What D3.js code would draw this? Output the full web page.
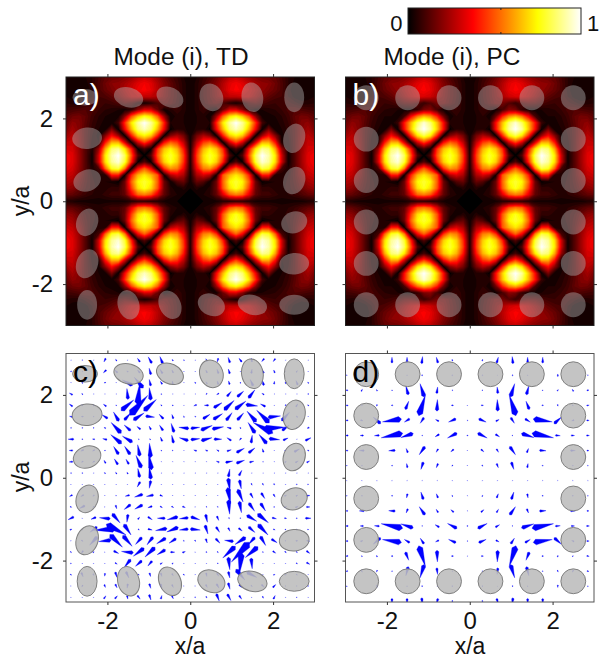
<!DOCTYPE html>
<html lang="en">
<head>
  <meta charset="UTF-8">
  <title>Mode (i), TD and PC</title>
  <script src="https://d3js.org/d3.v7.min.js"></script>
  <style>
    html, body { margin: 0; padding: 0; background: #fff; }
    svg { display: block; font-family: "Liberation Sans", Arial, sans-serif; }
    .tick text { font-size: 24px; fill: #111; }
    .tick line { stroke: #333; }
    .title { font-size: 24.4px; fill: #111; text-anchor: middle; }
    .axlabel { font-size: 23px; fill: #111; text-anchor: middle; }
    .letter { font-size: 30px; }
  </style>
</head>
<body>
<svg width="599" height="660"></svg>
<script>
  // intensity, upper-left quadrant, percent of max (rows y=3..0, cols x=-3..0)
  const heatPC = [
    [2,3,3,4,6,10,14,16,17,19,22,26,29,27,22,16,11,8,4,2],
    [3,3,3,3,6,11,16,20,21,24,28,33,36,33,26,19,14,9,5,2],
    [3,3,2,2,5,11,15,18,21,26,30,35,37,34,27,20,14,10,5,2],
    [4,3,2,3,6,10,11,14,18,23,28,32,32,30,25,19,14,10,5,2],
    [6,5,5,7,9,9,8,9,11,14,15,13,8,12,17,17,13,9,5,2],
    [9,10,11,12,11,8,6,5,4,3,3,7,18,20,10,3,6,8,5,2],
    [13,16,17,14,9,6,4,4,2,10,36,54,64,58,42,16,2,6,4,2],
    [15,21,19,13,8,5,3,2,8,40,64,84,96,86,66,38,5,4,4,2],
    [18,24,19,12,7,4,2,18,1,38,66,90,100,90,68,38,1,6,5,2],
    [23,27,20,12,6,3,20,38,24,1,42,70,82,72,42,1,20,26,17,2],
    [28,29,21,12,5,4,40,64,64,32,1,30,46,30,1,38,52,46,28,3],
    [32,31,22,12,4,22,62,86,90,72,40,1,10,1,44,66,74,64,40,3],
    [36,33,23,12,2,30,72,92,100,84,50,12,0,12,50,72,80,70,46,4],
    [36,33,23,12,2,30,70,90,96,80,42,1,12,1,42,68,78,68,44,4],
    [34,31,22,12,4,10,52,78,82,56,1,36,52,36,1,44,60,56,36,4],
    [30,28,20,12,6,4,4,40,40,1,42,64,72,64,50,2,26,32,25,3],
    [26,24,17,11,7,4,4,3,1,16,52,74,80,74,52,16,2,12,15,2],
    [22,20,15,10,7,5,5,7,7,16,46,70,78,70,50,16,5,2,5,2],
    [15,14,11,8,6,5,7,9,9,14,34,52,56,50,32,14,6,4,2,1],
    [5,4,3,3,3,3,3,3,3,3,5,6,6,5,5,3,2,2,1,0]
  ];

  // same for panel a: the upper lobe sits a little higher in the deformed lattice
  const heatTD = [
    [2,3,3,4,6,10,14,16,17,19,22,26,29,27,22,16,11,8,4,2],
    [3,3,3,3,6,11,16,20,21,24,28,33,36,33,26,19,14,9,5,2],
    [3,3,2,2,5,11,15,18,21,26,30,35,37,34,27,20,14,10,5,2],
    [4,3,2,3,6,10,11,14,18,23,28,30,28,28,25,19,14,10,5,2],
    [6,5,5,7,9,9,8,9,11,14,12,6,3,6,11,15,13,9,5,2],
    [9,10,11,12,11,8,6,5,4,3,6,20,32,31,16,3,5,8,5,2],
    [13,16,17,14,9,6,4,3,3,20,48,66,76,70,52,22,2,5,4,2],
    [15,21,19,13,8,5,3,2,10,44,72,90,100,90,72,42,4,4,4,2],
    [18,24,19,12,7,4,2,18,1,36,64,86,94,86,64,36,1,6,5,2],
    [23,27,20,12,6,3,20,38,24,1,40,66,74,66,40,1,20,26,17,2],
    [28,29,21,12,5,4,40,64,64,32,1,30,46,30,1,38,52,46,28,3],
    [32,31,22,12,4,22,62,86,90,72,40,1,10,1,44,66,74,64,40,3],
    [36,33,23,12,2,30,72,92,100,84,50,12,0,12,50,72,80,70,46,4],
    [36,33,23,12,2,30,70,90,96,80,42,1,12,1,42,68,78,68,44,4],
    [34,31,22,12,4,10,52,78,82,56,1,36,52,36,1,44,60,56,36,4],
    [30,28,20,12,6,4,4,40,40,1,42,64,72,64,50,2,26,32,25,3],
    [26,24,17,11,7,4,4,3,1,16,52,74,80,74,52,16,2,12,15,2],
    [22,20,15,10,7,5,5,7,7,16,46,70,78,70,50,16,5,2,5,2],
    [15,14,11,8,6,5,7,9,9,14,34,52,56,50,32,14,6,4,2,1],
    [5,4,3,3,3,3,3,3,3,3,5,6,6,5,5,3,2,2,1,0]
  ];

  // mean field of panel d, upper-left quadrant, [u,v, u,v, ...] per row
  const fieldPC = [
    [0,0, 0,0, 0,0, 0,-14, 0,-14, -2,-17, 4,-14, 1,-4, 0,0],
    [2,0, 0,0, 0,-6, 0,0, 0,-2, 0,-3, 1,0, 0,-3, 0,0],
    [5,-1, -3,-5, 2,-4, 2,-1, 6,-22, 10,-32, -2,-16, 2,0, 0,0],
    [6,-1, 2,2, 1,4, 4,0, -8,-20, -16,-50, -1,-28, 5,0, 1,0],
    [6,0, -6,2, 18,-16, 46,7, 13,8, 9,14, 8,-4, 18,8, 2,0],
    [7,0, 8,0, 12,1, 52,11, 30,10, 2,0, 10,6, 23,12, 3,0],
    [5,0, 12,0, 0,0, 16,1, 4,-10, 14,20, 5,8, 7,6, 1,0],
    [2,0, 3,0, 0,0, 3,0, 2,-10, 6,18, 4,10, 2,3, 1,0],
    [1,0, 1,0, 1,0, 1,0, 1,0, 1,0, 1,0, 1,0, 1,0]
  ];

  // panel c, rows y=2.84..0.11, 22 columns, [u,v, ...]; lower half is the same field turned 180 deg
  const fieldTD = [
    [1,0,2,1,1,0,5,10,3,-5,1,0,7,-10,10,-18,8,-20,3,-4,2,-2, 1,0,4,-8,3,10,5,-15,8,-10,2,-10,7,8,6,8,1,0,1,0,1,0],
    [3,1,2,0,2,0,8,8,8,-8,4,-3,7,-8,5,-18,7,-12,4,-8,1,0, 1,0,4,-8,4,-12,4,-13,1,0,-2,-12,5,-10,3,-8,1,0,-3,-5,1,0],
    [1,0,3,-3,5,0,4,2,1,0,28,-15,25,-30,4,-18,5,-8,2,-10,1,0, 3,-3,4,-6,3,-10,3,-10,2,-3,8,-18,5,-15,-1,-8,3,-5,5,-12,3,-3],
    [9,-5,3,-3,1,0,1,0,1,0,3,-30,-6,-60,4,-35,0,-3,1,0,1,0, 1,0,3,3,6,4,-12,-14,-18,-16,-18,-23,6,-4,1,0,1,0,1,0,3,0],
    [9,-7,3,-3,4,-4,8,-6,2,-2,-35,-30,-50,-55,-35,-32,3,-3,3,-2,1,0, 8,3,12,0,-23,-14,-28,-27,-30,-23,-33,4,14,-7,1,0,3,3,-5,-8,3,-3],
    [8,-2,6,0,3,0,16,-10,15,-26,-18,-20,-30,-20,-25,3,12,-13,4,-12,2,-4, 3,-1,-20,-13,-26,-16,-17,-22,-18,-20,26,-30,35,-35,-35,-4,-22,-24,4,-4,1,0],
    [3,0,3,0,3,0,5,-2,28,-30,18,-16,10,-8,5,-10,10,-15,8,-25,28,-3, -25,-3,-32,-13,-32,-6,12,-3,3,-3,20,-30,55,-30,-60,-4,-20,-15,3,3,6,2],
    [16,0,3,0,6,-1,12,-3,30,-25,28,-17,2,-2,2,-3,5,-12,5,-22,25,-8, -25,-3,-30,-8,-22,0,12,-8,5,6,-3,-22,22,-26,-30,3,-14,-6,1,0,-16,-8],
    [10,0,8,4,6,4,3,1,14,-22,16,-23,6,-32,3,-40,1,-3,2,-2,1,0, 8,-3,6,-3,6,-4,-12,-4,-22,-12,-18,-14,3,-10,1,0,-4,-3,-15,-8,4,-2],
    [10,1,5,3,6,3,5,-8,10,-16,8,-14,15,-35,8,-45,1,0,1,0,1,0, 1,0,1,0,8,-3,-20,-4,-23,-8,-12,-3,2,0,1,0,-4,-4,-8,-5,-8,-4],
    [3,0,3,0,1,0,3,-3,3,-5,3,-5,5,-25,5,-35,1,0,1,0,1,0, 1,0,1,0,1,0,-4,-22,-8,-15,1,0,1,0,1,0,1,0,1,0,1,0]
  ];

  // rods of the deformed (TD) lattice: centre, semi axes, tilt in degrees
  const rodX =   [-2.54,-1.49,-0.49,0.51,1.50,2.51, -2.49,2.51, -2.49,2.51, -2.49,2.51, -2.49,2.51, -2.49,-1.49,-0.49,0.51,1.50,2.51];
  const rodY =   [2.51,2.51,2.51,2.51,2.51,2.51, 1.52,1.52, 0.50,0.50, -0.51,-0.51, -1.51,-1.51, -2.50,-2.50,-2.50,-2.50,-2.50,-2.50];
  const rodA =   [0.30,0.36,0.34,0.28,0.26,0.24, 0.36,0.26, 0.34,0.26, 0.26,0.32, 0.26,0.36, 0.24,0.26,0.26,0.34,0.36,0.36];
  const rodB =   [0.20,0.24,0.24,0.34,0.36,0.36, 0.26,0.36, 0.26,0.34, 0.34,0.26, 0.36,0.26, 0.36,0.36,0.36,0.26,0.24,0.24];
  const rodTilt =[0,15,25,-20,-10,0, -5,15, -20,20, 20,-20, 20,-5, 0,-15,-25,25,15,0];

  // rods of the perfect (PC) lattice
  const cellCoords = [-2.5,-1.5,-0.5,0.5,1.5,2.5];
  const cellR = 0.3;

  const xTicks = [-2,0,2], yTicks = [-2,0,2];
  const barTicks = [0.537];
  const hotStops = ["#000000","#ff0000","#ffff00","#ffffff"];
  const hotDomain = [0,0.375,0.75,1];

  const svg = d3.select("svg");
  const size = 248.5;
  const panels = {
    a: {left:66, top:77},
    b: {left:345.5, top:77},
    c: {left:66, top:353.5},
    d: {left:345.5, top:353.5}
  };
  const hot = d3.scaleLinear().domain(hotDomain).range(hotStops);

  // full 39x39 grid from a quadrant by mirroring
  function mirrorGrid(q) {
    const n = q.length, m = 2*n-1, out = new Array(m*m);
    for (let j=0;j<m;j++) for (let i=0;i<m;i++) {
      const jj = j<n ? j : m-1-j, ii = i<n ? i : m-1-i;
      out[j*m+i] = q[jj][ii]/100;
    }
    return {values: out, m};
  }

  function makeScales(p) {
    return {
      x: d3.scaleLinear().domain([-3,3]).range([p.left, p.left+size]),
      y: d3.scaleLinear().domain([-3,3]).range([p.top+size, p.top])
    };
  }

  function drawAxes(p, s, showX, showY, boxColor) {
    const g = svg.append("g");
    g.append("rect").attr("x",p.left).attr("y",p.top).attr("width",size).attr("height",size)
      .attr("fill","none").attr("stroke",boxColor);
    const fmt = d => String(d);
    const left = g.append("g").attr("transform",`translate(${p.left},0)`)
      .call(d3.axisLeft(s.y).tickValues(yTicks).tickSizeInner(3).tickSizeOuter(0).tickPadding(10).tickFormat(showY?fmt:""));
    const right = g.append("g").attr("transform",`translate(${p.left+size},0)`)
      .call(d3.axisRight(s.y).tickValues(yTicks).tickSizeInner(3).tickSizeOuter(0).tickFormat(""));
    const bottom = g.append("g").attr("transform",`translate(0,${p.top+size})`)
      .call(d3.axisBottom(s.x).tickValues(xTicks).tickSizeInner(3).tickSizeOuter(0).tickPadding(7).tickFormat(showX?fmt:""));
    const top = g.append("g").attr("transform",`translate(0,${p.top})`)
      .call(d3.axisTop(s.x).tickValues(xTicks).tickSizeInner(3).tickSizeOuter(0).tickFormat(""));
    [left,right,bottom,top].forEach(a => {
      a.select(".domain").remove();
      a.attr("font-size",null).attr("font-family",null);
    });
  }

  const clipId = name => "clip-"+name;
  Object.entries(panels).forEach(([name,p]) => {
    svg.append("clipPath").attr("id",clipId(name)).append("rect")
      .attr("x",p.left).attr("y",p.top).attr("width",size).attr("height",size);
  });

  function drawHeat(name, grid) {
    const p = panels[name], s = makeScales(p);
    const step = 3/19;
    const g = svg.append("g").attr("clip-path",`url(#${clipId(name)})`);
    g.append("rect").attr("x",p.left).attr("y",p.top).attr("width",size).attr("height",size).attr("fill","#000");
    const levels = d3.range(0.02,1.0,0.02);
    const contours = d3.contours().size([grid.m,grid.m]).thresholds(levels)(grid.values);
    const proj = d3.geoTransform({point(px,py){
      this.stream.point(s.x(-3+(px-0.5)*step), s.y(3-(py-0.5)*step));
    }});
    const path = d3.geoPath(proj);
    g.append("g").style("filter","blur(0.7px)").selectAll("path").data(contours).join("path")
      .attr("d",path).attr("fill",d => hot(d.value+0.01));
    return {g, s};
  }

  function drawRodsTD(g, s, styleFn) {
    const sel = g.append("g").selectAll("ellipse").data(rodX).join("ellipse")
      .attr("cx",0).attr("cy",0)
      .attr("rx",(d,i) => s.x(rodA[i])-s.x(0))
      .attr("ry",(d,i) => s.x(rodB[i])-s.x(0))
      .attr("transform",(d,i) => `translate(${s.x(rodX[i])},${s.y(rodY[i])}) rotate(${rodTilt[i]})`);
    styleFn(sel);
  }
  function drawRodsPC(g, s, styleFn) {
    const pts = [];
    cellCoords.forEach((cy,j) => cellCoords.forEach((cx,i) => {
      if (i===0||j===0||i===5||j===5) pts.push([cx,cy]);
    }));
    const sel = g.append("g").selectAll("circle").data(pts).join("circle")
      .attr("cx",d => s.x(d[0])).attr("cy",d => s.y(d[1]))
      .attr("r",s.x(cellR)-s.x(0));
    styleFn(sel);
  }

  const overlay = sel => sel.attr("fill","#b4b4b4").attr("fill-opacity",0.44);
  const solid = sel => sel.attr("fill","#bcbcbc").attr("fill-opacity",0.88)
    .attr("stroke","#808080").attr("stroke-width",1);

  function kite(s, gx, gy, u, v, unit) {
    const x0 = s.x(gx-u*unit/2), y0 = s.y(gy-v*unit/2);
    const x1 = s.x(gx+u*unit/2), y1 = s.y(gy+v*unit/2);
    const len = Math.hypot(x1-x0,y1-y0) || 0.4;
    const ux = (x1-x0)/len, uy = (y1-y0)/len;
    const w = 0.13*len+0.3;
    const bx = x0+(x1-x0)*0.86, by = y0+(y1-y0)*0.86;
    return d3.line()([[x0,y0],[bx-uy*w,by+ux*w],[x1,y1],[bx+uy*w,by-ux*w]])+"Z";
  }

  function drawQuiver(g, s, arrows, unit) {
    g.append("g").selectAll("path").data(arrows).join("path")
      .attr("d",d => kite(s,d.x,d.y,d.u,d.v,unit))
      .attr("fill","#0000ff").attr("stroke","#0000ff").attr("stroke-width",0.4)
      .attr("stroke-opacity",0.8);
  }

  // panel a, b: heat maps
  const aH = drawHeat("a", mirrorGrid(heatTD));
  drawRodsTD(aH.g, aH.s, overlay);
  const bH = drawHeat("b", mirrorGrid(heatPC));
  drawRodsPC(bH.g, bH.s, overlay);

  // panel c arrows
  {
    const p = panels.c, s = makeScales(p);
    const g = svg.append("g").attr("clip-path",`url(#${clipId("c")})`);
    const gx = d3.range(22).map(i => -2.88+0.2727*i), gy = d3.range(22).map(j => 2.84-0.2727*j);
    const arrows = [];
    fieldTD.forEach((row,j) => {
      for (let i=0;i<22;i++) {
        const u = row[2*i], v = row[2*i+1];
        arrows.push({x:gx[i],y:gy[j],u,v});
        arrows.push({x:gx[21-i],y:gy[21-j],u:-u,v:-v});
      }
    });
    drawQuiver(g, s, arrows, 1/115);
    drawRodsTD(g, s, solid);
  }
  // panel d arrows
  {
    const p = panels.d, s = makeScales(p);
    const g = svg.append("g").attr("clip-path",`url(#${clipId("d")})`);
    const gx = d3.range(17).map(i => -2.97+0.364*i), gy = d3.range(17).map(j => 2.84-0.364*j);
    const arrows = [];
    fieldPC.forEach((row,j) => {
      for (let i=0;i<9;i++) {
        const u = row[2*i], v = row[2*i+1];
        arrows.push({x:gx[i],y:gy[j],u,v});
        if (i<8) arrows.push({x:gx[16-i],y:gy[j],u:-u,v});
        if (j<8) arrows.push({x:gx[i],y:gy[16-j],u,v:-v});
        if (i<8&&j<8) arrows.push({x:gx[16-i],y:gy[16-j],u:-u,v:-v});
      }
    });
    drawQuiver(g, s, arrows, 1/100);
    drawRodsPC(g, s, solid);
  }

  drawAxes(panels.a, makeScales(panels.a), false, true, "#222");
  drawAxes(panels.b, makeScales(panels.b), false, false, "#222");
  drawAxes(panels.c, makeScales(panels.c), true, true, "#555");
  drawAxes(panels.d, makeScales(panels.d), true, false, "#555");

  // panel letters
  [["a","a)","#fff"],["b","b)","#fff"],["c","c)","#000"],["d","d)","#000"]].forEach(([k,t,col]) => {
    const p = panels[k];
    svg.append("text").attr("class","letter").attr("x",p.left+7).attr("y",p.top+28).attr("fill",col).text(t);
  });

  // titles and axis labels
  svg.append("text").attr("class","title").attr("x",181).attr("y",65).text("Mode (i), TD");
  svg.append("text").attr("class","title").attr("x",452).attr("y",65).text("Mode (i), PC");
  svg.append("text").attr("class","axlabel").attr("transform","translate(29,201) rotate(-90)").text("y/a");
  svg.append("text").attr("class","axlabel").attr("transform","translate(29,477) rotate(-90)").text("y/a");
  svg.append("text").attr("class","axlabel").attr("x",190).attr("y",654).text("x/a");
  svg.append("text").attr("class","axlabel").attr("x",470).attr("y",654).text("x/a");

  // colour bar
  const barX = d3.scaleLinear().domain([0,1]).range([408,581]);
  const grad = svg.append("defs").append("linearGradient").attr("id","hot");
  hotDomain.forEach((d,i) => grad.append("stop").attr("offset",d).attr("stop-color",hotStops[i]));
  svg.append("rect").attr("x",barX(0)).attr("y",8).attr("width",barX(1)-barX(0)).attr("height",26)
    .attr("fill","url(#hot)").attr("stroke","#222");
  barTicks.forEach(t => {
    svg.append("line").attr("x1",barX(t)).attr("x2",barX(t)).attr("y1",8).attr("y2",10).attr("stroke","#222");
    svg.append("line").attr("x1",barX(t)).attr("x2",barX(t)).attr("y1",32).attr("y2",34).attr("stroke","#222");
  });
  svg.append("text").attr("x",402.5).attr("y",31).attr("text-anchor","end").attr("font-size",22).attr("fill","#111").text("0");
  svg.append("text").attr("x",587).attr("y",31).attr("font-size",22).attr("fill","#111").text("1");
</script>
</body>
</html>
